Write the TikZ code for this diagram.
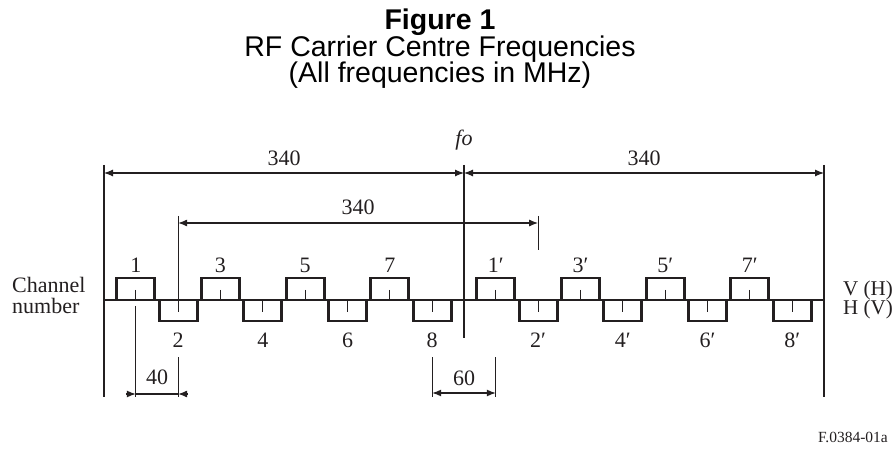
\documentclass[tikz,border=0pt]{standalone}
\usepackage{fontspec}
\setmainfont{Liberation Serif}
\newfontfamily\arialfont{Liberation Sans}
\usetikzlibrary{arrows.meta}
\definecolor{ink}{HTML}{231F20}
\begin{document}
\begin{tikzpicture}[x=1pt,y=-1pt,
  thinline/.style={line width=1.1pt, draw=ink},
  chbox/.style={line width=2.8pt, draw=ink, line join=miter},
  dimline/.style={thinline, {Latex[length=9pt,width=7pt]}-{Latex[length=9pt,width=7pt]}},
  outarrow/.style={thinline, -{Latex[length=9pt,width=7pt]}},
  lbl/.style={font=\fontsize{22}{22}\selectfont, inner sep=0pt, anchor=base, text=ink},
  ttl/.style={font=\arialfont\fontsize{28.5}{28.5}\selectfont, inner sep=0pt, anchor=base, text=black},
]
\useasboundingbox (0,0) rectangle (895,449);
\def\fx#1{464+1.0588*(#1)}

% titles
\node[ttl, font=\arialfont\bfseries\fontsize{28.5}{28.5}\selectfont] (t1) at (440,30) {Figure 1};
\node[ttl] (t2) at (440,57) {RF Carrier Centre Frequencies};
\node[ttl] (t3) at (440,83) {(All frequencies in MHz)};

% main frame lines
\coordinate (Ltop) at (104,165); \coordinate (Lbot) at (104,397);
\coordinate (Rtop) at (824,165); \coordinate (Rbot) at (824,397);
\coordinate (Ftop) at (464,165); \coordinate (Fbot) at (464,338);
\draw[thinline] (Ltop) -- (Lbot);
\draw[thinline] (Rtop) -- (Rbot);
\draw[thinline] (Ftop) -- (Fbot);
\coordinate (B0) at (104,300); \coordinate (B1) at (824,300);
\draw[thinline] (B0) -- (B1);

% fo label
\node[lbl, font=\itshape\fontsize{22}{22}\selectfont] (fo) at (464,146) {fo};

% top dimension arrows
\coordinate (a1) at (104,173); \coordinate (a2) at (464,173); \coordinate (a3) at (824,173);
\draw[dimline] (a1) -- (a2);
\draw[dimline] (a2) -- (a3);
\node[lbl] (d1) at (284,166) {340};
\node[lbl] (d2) at (644,166) {340};

% middle dimension
\coordinate (m1) at ({\fx{-270}},223); \coordinate (m2) at ({\fx{70}},223);
\coordinate (m1t) at ({\fx{-270}},216); \coordinate (m1b) at ({\fx{-270}},312);
\coordinate (m2t) at ({\fx{70}},216); \coordinate (m2b) at ({\fx{70}},250);
\draw[thinline] (m1t) -- (m1b);
\draw[thinline] (m2t) -- (m2b);
\draw[dimline] (m1) -- (m2);
\node[lbl] (d3) at (358,215) {340};

% channel boxes, upper (V(H))
\foreach \n/\f/\nm in {1/-310/c1,3/-230/c3,5/-150/c5,7/-70/c7,1′/30/p1,3′/110/p3,5′/190/p5,7′/270/p7}{
  \pgfmathsetmacro\x{\fx{\f}}
  \draw[chbox] (\x-19,300) -- (\x-19,278) -- (\x+19,278) -- (\x+19,300);
  \draw[thinline] (\x,290) -- (\x,300);
  \node[lbl] (\nm) at (\x,273) {\n};
}
% channel boxes, lower (H(V))
\foreach \n/\f/\nm in {2/-270/c2,4/-190/c4,6/-110/c6,8/-30/c8,2′/70/p2,4′/150/p4,6′/230/p6,8′/310/p8}{
  \pgfmathsetmacro\x{\fx{\f}}
  \draw[chbox] (\x-19,300) -- (\x-19,321) -- (\x+19,321) -- (\x+19,300);
  \draw[thinline] (\x,300) -- (\x,312);
  \node[lbl] (\nm) at (\x,348) {\n};
}

% 40 dimension
\coordinate (f1t) at ({\fx{-310}},306); \coordinate (f1b) at ({\fx{-310}},397);
\coordinate (f2t) at ({\fx{-270}},357); \coordinate (f2b) at ({\fx{-270}},397);
\draw[thinline] (f1t) -- (f1b);
\draw[thinline] (f2t) -- (f2b);
\coordinate (f1) at ({\fx{-310}},394); \coordinate (f2) at ({\fx{-270}},394);
\coordinate (f1o) at ({\fx{-310}-10},394); \coordinate (f2o) at ({\fx{-270}+10},394);
\draw[thinline] (f1) -- (f2);
\draw[outarrow] (f1o) -- (f1);
\draw[outarrow] (f2o) -- (f2);
\node[lbl] (d4) at (157,384) {40};

% 60 dimension
\coordinate (s1t) at ({\fx{-30}},357); \coordinate (s1b) at ({\fx{-30}},397);
\coordinate (s2t) at ({\fx{30}},357); \coordinate (s2b) at ({\fx{30}},397);
\draw[thinline] (s1t) -- (s1b);
\draw[thinline] (s2t) -- (s2b);
\coordinate (s1) at ({\fx{-30}},393); \coordinate (s2) at ({\fx{30}},393);
\draw[dimline] (s1) -- (s2);
\node[lbl] (d5) at (464,385) {60};

% side labels
\node[lbl, anchor=base west] (ch1) at (12,293) {Channel};
\node[lbl, anchor=base west] (ch2) at (12,314) {number};
\node[lbl, anchor=base west, font=\fontsize{21}{21}\selectfont] (vh) at (843,296) {V (H)};
\node[lbl, anchor=base west, font=\fontsize{21}{21}\selectfont] (hv) at (843,315) {H (V)};

% figure id
\node[lbl, anchor=base east, font=\fontsize{15.5}{15.5}\selectfont] (fid) at (888,442) {F.0384-01a};
\end{tikzpicture}
\end{document}
